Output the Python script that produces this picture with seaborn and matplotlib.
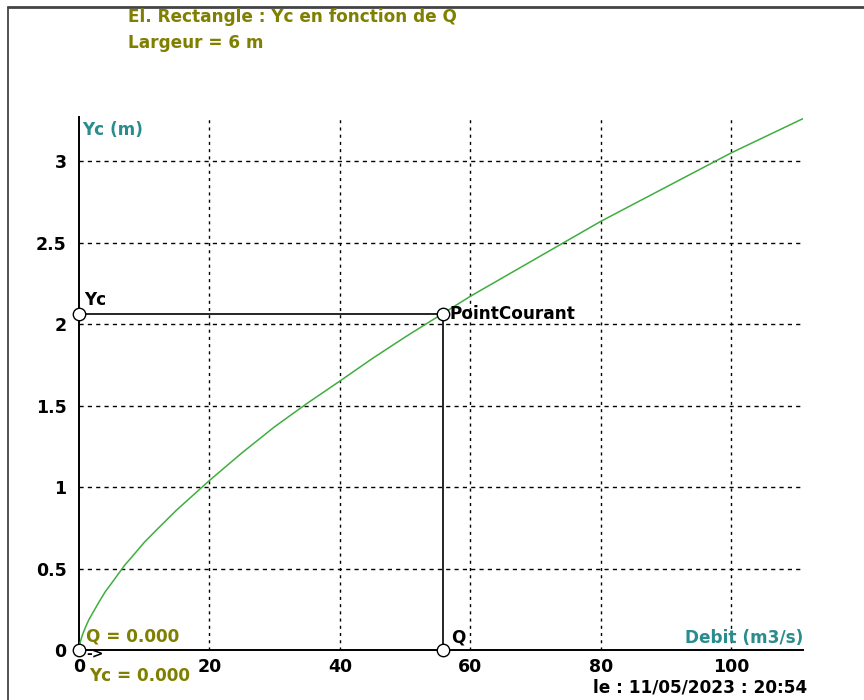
import matplotlib
matplotlib.use("Agg")
import matplotlib.pyplot as plt
from matplotlib.lines import Line2D
import seaborn as sns
import pandas as pd

# Critical depth Yc (m) against discharge Q (m3/s), rectangular channel, width 6 m
debit = [0, 0.1, 0.25, 0.5, 1, 1.5, 2, 3, 4, 5, 7, 8, 10, 12, 15, 20, 25, 30, 35, 40,
         45, 50, 60, 70, 80, 90, 100, 111]
yc = [0, 0.03, 0.056, 0.09, 0.14, 0.185, 0.22, 0.29, 0.356, 0.41, 0.52, 0.566, 0.66,
      0.741, 0.86, 1.04, 1.21, 1.37, 1.514, 1.65, 1.789, 1.92, 2.17, 2.40, 2.63, 2.84,
      3.05, 3.26]

# Current point
q_courant = 55.8
yc_courant = 2.06

x_ticks = [0, 20, 40, 60, 80, 100]
y_ticks = [0, 0.5, 1, 1.5, 2, 2.5, 3]
y_tick_labels = ["0", "0.5", "1", "1.5", "2", "2.5", "3"]

titre = "El. Rectangle : Yc en fonction de Q"
sous_titre = "Largeur = 6 m"
date_txt = "le : 11/05/2023 : 20:54"

sns.set_style("white")
plt.rcParams["font.family"] = ["DejaVu Sans"]
plt.rcParams["font.weight"] = "bold"

OLIVE = "#7f7f00"
TEAL = "#2a8c8c"

fig = plt.figure(figsize=(8.64, 7.0), dpi=100)
ax = fig.add_axes([79 / 864, 1 - 650 / 700, (803 - 79) / 864, (650 - 117) / 700])
ax.set_xlim(0, 111)
ax.set_ylim(0, 3.27)

# Outer window frame
fig.add_artist(Line2D([8 / 864, 8 / 864], [0, 1 - 7 / 700], transform=fig.transFigure,
                      color="#333333", lw=1.2))
fig.add_artist(Line2D([8 / 864, 1], [1 - 7 / 700, 1 - 7 / 700], transform=fig.transFigure,
                      color="#444444", lw=2.0))

# Grid
for yv in y_ticks[1:]:
    ax.plot([0, 111], [yv, yv], color="black", lw=1.0, ls=(0, (3, 3)), zorder=1)
for xv in x_ticks[1:]:
    ax.plot([xv, xv], [0, 3.27], color="black", lw=1.0, ls=(0, (2.2, 3)), zorder=1)

# Curve
df = pd.DataFrame({"Q": debit, "Yc": yc})
sns.lineplot(data=df, x="Q", y="Yc", ax=ax, color="#3fae3f", lw=1.1, zorder=3)

# Current point construction lines
ax.plot([0, q_courant], [yc_courant, yc_courant], color="black", lw=1.2, zorder=4)
ax.plot([q_courant, q_courant], [yc_courant, 0], color="black", lw=1.2, zorder=4)
ax.scatter([0, q_courant, q_courant, 0], [yc_courant, yc_courant, 0, 0], s=80,
           facecolor="white", edgecolor="black", linewidth=1.0, zorder=6, clip_on=False)

# Axes styling
for s in ["top", "right"]:
    ax.spines[s].set_visible(False)
for s in ["left", "bottom"]:
    ax.spines[s].set_color("black")
    ax.spines[s].set_linewidth(1.4)
ax.set_xticks(x_ticks)
ax.set_xticklabels([str(v) for v in x_ticks])
ax.set_yticks(y_ticks)
ax.set_yticklabels(y_tick_labels)
ax.tick_params(axis="both", length=0, labelsize=12.5, colors="black")
ax.tick_params(axis="x", pad=6)
ax.tick_params(axis="y", pad=9)
for lbl in ax.get_xticklabels() + ax.get_yticklabels():
    lbl.set_fontweight("bold")
ax.set_xlabel("")
ax.set_ylabel("")

fs = 12.2
# Titles
fig.text(128 / 864, 1 - 17 / 700, titre, color=OLIVE, fontsize=fs, fontweight="bold",
         va="center", ha="left")
fig.text(128 / 864, 1 - 43 / 700, sous_titre, color=OLIVE, fontsize=fs, fontweight="bold",
         va="center", ha="left")

# Axis names
fig.text(82 / 864, 1 - 130 / 700, "Yc (m)", color=TEAL, fontsize=fs, fontweight="bold",
         va="center", ha="left")
fig.text(803 / 864, 1 - 638 / 700, "Debit (m3/s)", color=TEAL, fontsize=fs, fontweight="bold",
         va="center", ha="right")

# Point labels
ax.annotate("Yc", (0, yc_courant), xytext=(4, 10), textcoords="offset points",
            fontsize=fs, fontweight="bold", color="black", va="center", ha="left")
ax.annotate("PointCourant", (q_courant, yc_courant), xytext=(5, 0), textcoords="offset points",
            fontsize=fs, fontweight="bold", color="black", va="center", ha="left")
ax.annotate("Q", (q_courant, 0), xytext=(6, 9), textcoords="offset points",
            fontsize=fs, fontweight="bold", color="black", va="center", ha="left")
ax.annotate("Q = 0.000", (0, 0), xytext=(5, 10), textcoords="offset points",
            fontsize=fs, fontweight="bold", color=OLIVE, va="center", ha="left")
ax.annotate("Yc = 0.000", (0, 0), xytext=(7, -19), textcoords="offset points",
            fontsize=fs, fontweight="bold", color=OLIVE, va="center", ha="left")
ax.annotate("->", (0, 0), xytext=(5, -3), textcoords="offset points",
            fontsize=10, fontweight="bold", color="black", va="center", ha="left")

# Date stamp
fig.text(593 / 864, 1 - 688 / 700, date_txt, color="black", fontsize=fs, fontweight="bold",
         va="center", ha="left")

fig.savefig("out.png", dpi=100, facecolor="white")
